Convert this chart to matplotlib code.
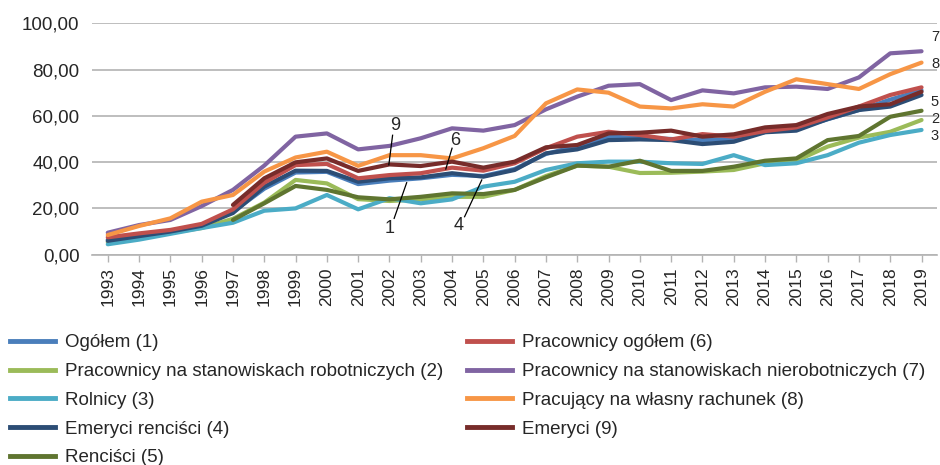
import numpy as np
import matplotlib
matplotlib.use("Agg")
import matplotlib.pyplot as plt
from matplotlib.ticker import FuncFormatter
from matplotlib.lines import Line2D

plt.rcParams['font.family'] = ['Liberation Sans', 'DejaVu Sans']

years = list(range(1993, 2020))

# series values (1..9), None where no data
ogolem = [6.5, 8.5, 10.3, 12.8, 18.5, 28.5, 35.5, 35.8, 30.5, 32.0, 33.0, 34.5, 34.0, 37.0,
          43.5, 47.0, 51.0, 50.5, 50.0, 49.5, 50.0, 53.0, 54.5, 58.5, 62.5, 67.0, 71.0]
robotnicy = [5.5, 7.5, 9.5, 11.5, 15.5, 22.5, 32.3, 30.8, 24.0, 23.2, 23.9, 25.0, 25.0, 28.0,
             34.0, 38.5, 38.0, 35.3, 35.4, 35.9, 36.6, 39.5, 40.6, 46.7, 50.6, 53.1, 58.2]
rolnicy = [4.5, 6.5, 9.0, 11.5, 13.8, 19.0, 20.0, 25.8, 19.6, 24.4, 22.2, 23.9, 29.4, 31.5,
           36.6, 39.5, 40.2, 40.2, 39.5, 39.2, 43.0, 38.7, 39.5, 43.0, 48.4, 51.7, 53.9]
emeryci_rencisci = [6.0, 8.0, 10.0, 12.5, 18.0, 29.4, 36.3, 36.2, 31.5, 33.0, 33.4, 35.2, 33.7, 36.6,
                    43.8, 45.5, 49.5, 49.8, 49.5, 47.8, 48.8, 52.9, 53.6, 58.6, 62.5, 64.0, 69.0]
rencisci = [None, None, None, None, 15.0, 22.2, 29.7, 28.0, 24.8, 23.9, 25.0, 26.5, 26.2, 28.0,
            33.4, 38.5, 38.0, 40.6, 36.2, 36.2, 38.0, 40.6, 41.6, 49.5, 51.3, 59.6, 62.2]
pracownicy = [7.5, 9.2, 10.7, 13.3, 19.6, 31.1, 38.7, 39.2, 33.0, 34.4, 35.2, 37.6, 36.3, 39.5,
              46.0, 51.0, 53.1, 51.7, 49.8, 52.1, 51.0, 53.4, 55.0, 59.3, 64.0, 69.0, 72.3]
nierobotnicy = [9.5, 12.8, 15.0, 21.0, 28.0, 38.5, 51.0, 52.4, 45.5, 47.0, 50.3, 54.6, 53.6, 56.0,
                62.8, 68.3, 73.0, 73.7, 66.8, 71.0, 69.7, 72.3, 72.6, 71.6, 76.6, 87.0, 87.9]
wlasny = [8.5, 12.4, 15.7, 22.9, 25.8, 35.9, 42.0, 44.5, 38.4, 43.0, 43.0, 41.6, 46.0, 51.3,
          65.4, 71.4, 70.0, 64.0, 63.2, 65.0, 64.0, 70.4, 75.8, 73.7, 71.6, 78.0, 83.0]
emeryci = [None, None, None, None, 21.5, 33.0, 39.9, 41.6, 36.2, 39.0, 38.3, 40.2, 37.6, 40.2,
           46.4, 47.4, 52.4, 52.7, 53.6, 51.0, 52.0, 55.0, 56.0, 60.8, 64.0, 65.0, 70.4]

labels = ["Ogółem (1)", "Pracownicy na stanowiskach robotniczych (2)", "Rolnicy (3)",
          "Emeryci renciści (4)", "Renciści (5)", "Pracownicy ogółem (6)",
          "Pracownicy na stanowiskach nierobotniczych (7)", "Pracujący na własny rachunek (8)",
          "Emeryci (9)"]
series = [ogolem, robotnicy, rolnicy, emeryci_rencisci, rencisci,
          pracownicy, nierobotnicy, wlasny, emeryci]
colors = ["#4a7ebb", "#9bbb59", "#4bacc6", "#2c4d75", "#5f7530",
          "#c0504d", "#8064a2", "#f79646", "#772c2a"]

fig = plt.figure(figsize=(9.4, 4.65), dpi=100)
ax = fig.add_axes([0.098, 0.4523, 0.899, 0.4977])

for vals, c, lab in zip(series, colors, labels):
    y = np.array([np.nan if v is None else v for v in vals])
    ax.plot(years, y, color=c, lw=3, label=lab, solid_capstyle='round')

ax.set_xlim(1992.5, 2019.5)
ax.set_ylim(0, 100)
ax.set_yticks(np.arange(0, 101, 20))
ax.yaxis.set_major_formatter(FuncFormatter(lambda v, p: f"{v:.2f}".replace(".", ",")))
ax.set_xticks(years)
ax.set_xticklabels([str(y) for y in years], rotation=90, fontsize=12.5, color="#262626")
ax.tick_params(axis='y', length=0, pad=9, labelsize=13.5, labelcolor="#262626")
ax.tick_params(axis='x', length=5, width=1, color="#b3b3b3", pad=4)
ax.grid(axis='y', color="#b3b3b3", lw=1.2)
ax.set_axisbelow(True)
for s in ['top', 'right', 'left']:
    ax.spines[s].set_visible(False)
ax.spines['bottom'].set_color("#b3b3b3")
ax.spines['bottom'].set_linewidth(1.2)

# end labels
for txt, val in [("7", 94.0), ("8", 82.4), ("5", 66.0), ("2", 58.6), ("3", 51.3)]:
    ax.text(2019.3, val, txt, fontsize=10.5, ha='left', va='center', clip_on=False,
            color="#262626")

# leader-line labels
for txt, tpos, p0, p1 in [("9", (2002.17, 56.0), (2002.1, 51.6), (2001.98, 38.8)),
                          ("6", (2004.1, 49.3), (2004.0, 46.0), (2003.8, 37.0)),
                          ("1", (2002.0, 11.4), (2002.15, 15.7), (2002.55, 31.1)),
                          ("4", (2004.2, 12.8), (2004.4, 16.4), (2004.95, 32.3))]:
    ax.text(tpos[0], tpos[1], txt, fontsize=13, ha='center', va='center', color="#262626")
    ax.plot([p0[0], p1[0]], [p0[1], p1[1]], color="black", lw=0.9)

handles = [Line2D([], [], color=c, lw=3.5) for c in colors]
leg_kw = dict(frameon=False, loc='upper left', fontsize=13.5, handlelength=2.4,
              handletextpad=0.5, labelspacing=0.62, borderpad=0, borderaxespad=0,
              labelcolor="#262626")
fig.legend(handles[:5], labels[:5], bbox_to_anchor=(0.011, 0.281), **leg_kw)
fig.legend(handles[5:], labels[5:], bbox_to_anchor=(0.497, 0.281), **leg_kw)

fig.savefig("out.png", dpi=100)
